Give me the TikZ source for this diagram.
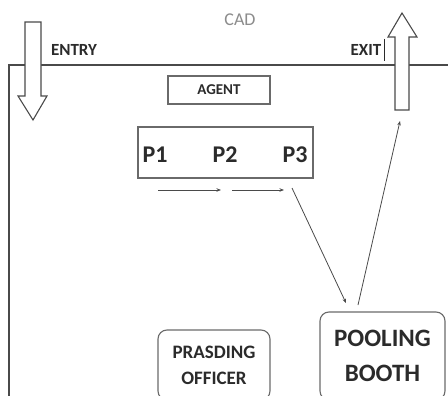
\documentclass[tikz,border=0pt]{standalone}
\usepackage{fontspec}
\setmainfont{Carlito}
\usetikzlibrary{arrows.meta}
\definecolor{ink}{HTML}{2B2B2B}
\definecolor{linec}{HTML}{4A4A4A}
\definecolor{boxc}{HTML}{6A6A6A}
\definecolor{cadc}{HTML}{8C8C8C}
\tikzset{
  lbl/.style={text=ink, font=\bfseries, inner sep=0pt},
  boxr/.style={draw=boxc, line width=1.1pt, inner sep=0pt},
  rbox/.style={draw=boxc, line width=1.1pt, rounded corners=9pt, inner sep=0pt, align=center, text=ink, font=\bfseries},
  blockarrow/.style={draw=linec, line width=1.1pt, fill=white, line join=miter},
  conn/.style={draw=linec, line width=0.8pt, -{Stealth[length=4.5pt,width=3.5pt]}},
  wall/.style={draw=linec, line width=1.3pt}
}
\begin{document}
\begin{tikzpicture}[x=1pt,y=-1pt]
\useasboundingbox (0,0) rectangle (448,396);
\clip (0,0) rectangle (448,396);
\fill[white] (0,0) rectangle (448,396);
% walls
\draw[wall] (448,65) -- (9,65) -- (9,397);
% titles
\node[text=cadc, font=\fontsize{18}{20}\selectfont, inner sep=0pt] (cad) at (240,20) {CAD};
\node[lbl, font=\bfseries\fontsize{17}{20}\selectfont] (entry) at (74,50) {ENTRY};
\node[lbl, font=\bfseries\fontsize{17}{20}\selectfont] (exit) at (366,50) {EXIT};
\draw[ink, line width=0.9pt] (384,39) -- (384,61);
% entry arrow
\draw[blockarrow] (25,22) -- (41,22) -- (41,96) -- (47,96) -- (33,120) -- (18,96) -- (25,96) -- cycle;
% exit arrow
\draw[blockarrow] (395,110) -- (409,110) -- (409,37) -- (417,37) -- (402,13) -- (388,37) -- (395,37) -- cycle;
% agent
\node[boxr, minimum width=102pt, minimum height=28pt, text=ink, font=\bfseries\fontsize{15}{17}\selectfont] (agent) at (219,90) {AGENT};
% P box
\node[boxr, minimum width=175pt, minimum height=51pt] (pbox) at (225.5,152.5) {};
\node[lbl, font=\bfseries\fontsize{24}{26}\selectfont] (p1) at (155,155) {P1};
\node[lbl, font=\bfseries\fontsize{24}{26}\selectfont] (p2) at (225,155) {P2};
\node[lbl, font=\bfseries\fontsize{24}{26}\selectfont] (p3) at (295,155) {P3};
% boxes at bottom
\node[rbox, minimum width=112pt, minimum height=70pt, font=\bfseries\fontsize{19}{26}\selectfont] (officer) at (214,365) {PRASDING\\OFFICER};
\node[rbox, minimum width=125pt, minimum height=88pt, font=\bfseries\fontsize{25}{35}\selectfont] (booth) at (382.5,356) {POOLING\\BOOTH};
% connector end points
\coordinate (a1) at (158,190);
\coordinate (a2) at (221,190);
\coordinate (b1) at (232,190);
\coordinate (b2) at (284,190);
\coordinate (c1) at (292,188);
\coordinate (c2) at (346,303);
\coordinate (d1) at (358,305);
\coordinate (d2) at (400,121);
\draw[conn] (a1) -- (a2);
\draw[conn] (b1) -- (b2);
\draw[conn] (c1) -- (c2);
\draw[conn] (d1) -- (d2);
\end{tikzpicture}
\end{document}
